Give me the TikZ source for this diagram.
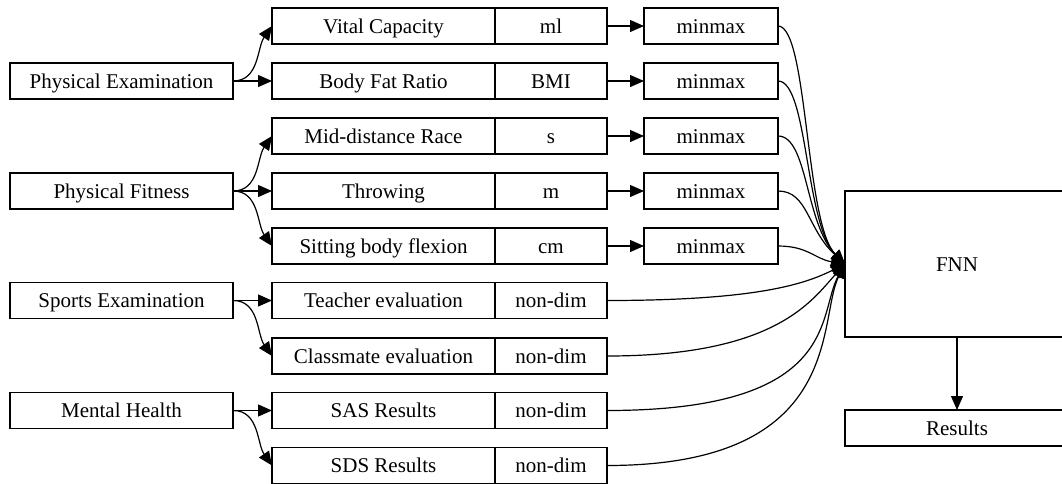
\documentclass[tikz,border=0pt]{standalone}
\usepackage{fontspec}
\setmainfont{Liberation Serif}
\usetikzlibrary{positioning,arrows.meta}

\tikzset{
  box/.style={draw, line width=0.6pt, outer sep=0pt, inner sep=0pt, minimum height=18pt, text height=7pt, text depth=0pt, font=\fontsize{10.5}{12}\selectfont},
  srcbox/.style={box, minimum width=111.5pt},
  itembox/.style={box, minimum width=111.5pt},
  unitbox/.style={box, minimum width=56pt},
  normbox/.style={box, minimum width=67pt},
  link/.style={line width=0.6pt, -{Triangle[length=7pt,width=6pt]}},
}

\begin{document}
\begin{tikzpicture}[x=0.5pt,y=-0.5pt]
\useasboundingbox (0,0) rectangle (1062,483);
% source groups
\node[srcbox] (pe) at (121.5,81) {Physical Examination};
\node[srcbox] (pf) at (121.5,191) {Physical Fitness};
\node[srcbox] (se) at (121.5,300.5) {Sports Examination};
\node[srcbox] (mh) at (121.5,410.5) {Mental Health};
% indicators with units
\node[itembox] (vc) at (383.5,26) {Vital Capacity};
\node[unitbox, right=0pt of vc] (vcu) {ml};
\node[itembox] (bf) at (383.5,81) {Body Fat Ratio};
\node[unitbox, right=0pt of bf] (bfu) {BMI};
\node[itembox] (md) at (383.5,136) {Mid-distance Race};
\node[unitbox, right=0pt of md] (mdu) {s};
\node[itembox] (th) at (383.5,191) {Throwing};
\node[unitbox, right=0pt of th] (thu) {m};
\node[itembox] (sb) at (383.5,246) {Sitting body flexion};
\node[unitbox, right=0pt of sb] (sbu) {cm};
\node[itembox] (te) at (383.5,300.5) {Teacher evaluation};
\node[unitbox, right=0pt of te] (teu) {non-dim};
\node[itembox] (ce) at (383.5,356) {Classmate evaluation};
\node[unitbox, right=0pt of ce] (ceu) {non-dim};
\node[itembox] (sas) at (383.5,410.5) {SAS Results};
\node[unitbox, right=0pt of sas] (sasu) {non-dim};
\node[itembox] (sds) at (383.5,465.5) {SDS Results};
\node[unitbox, right=0pt of sds] (sdsu) {non-dim};
% normalisation
\node[normbox] (vcm) at (711,26) {minmax};
\node[normbox] (bfm) at (711,81) {minmax};
\node[normbox] (mdm) at (711,136) {minmax};
\node[normbox] (thm) at (711,191) {minmax};
\node[normbox] (sbm) at (711,246) {minmax};
% network and output
\node[box, minimum width=112pt, minimum height=73pt] (fnn) at (957,264) {FNN};
\node[box, minimum width=112pt] (res) at (957,428) {Results};

% groups to indicators
\draw[link] (pe.east) to[out=0,in=235] (vc.west);
\draw[link] (pe.east) -- (bf.west);
\draw[link] (pf.east) to[out=0,in=235] (md.west);
\draw[link] (pf.east) -- (th.west);
\draw[link] (pf.east) to[out=0,in=125] (sb.west);
\draw[link] (se.east) -- (te.west);
\draw[link] (se.east) to[out=0,in=125] (ce.west);
\draw[link] (mh.east) -- (sas.west);
\draw[link] (mh.east) to[out=0,in=125] (sds.west);

% units to minmax
\draw[link] (vcu.east) -- (vcm.west);
\draw[link] (bfu.east) -- (bfm.west);
\draw[link] (mdu.east) -- (mdm.west);
\draw[link] (thu.east) -- (thm.west);
\draw[link] (sbu.east) -- (sbm.west);

% everything into the FNN
\draw[link] (vcm.east) .. controls +(30,0) and +(-40,-40) .. (fnn.west);
\draw[link] (bfm.east) .. controls +(30,0) and +(-40,-40) .. (fnn.west);
\draw[link] (mdm.east) .. controls +(30,0) and +(-40,-40) .. (fnn.west);
\draw[link] (thm.east) .. controls +(30,0) and +(-38,-35) .. (fnn.west);
\draw[link] (sbm.east) .. controls +(30,0) and +(-30,-5) .. (fnn.west);
\draw[link] (teu.east) .. controls +(150,0) and +(-40,20) .. (fnn.west);
\draw[link] (ceu.east) .. controls +(170,0) and +(-33,36) .. (fnn.west);
\draw[link] (sasu.east) .. controls +(235,0) and +(-28,50) .. (fnn.west);
\draw[link] (sdsu.east) .. controls +(240,0) and +(-28,55) .. (fnn.west);

\draw[link] (fnn.south) -- (res.north);
\end{tikzpicture}
\end{document}
